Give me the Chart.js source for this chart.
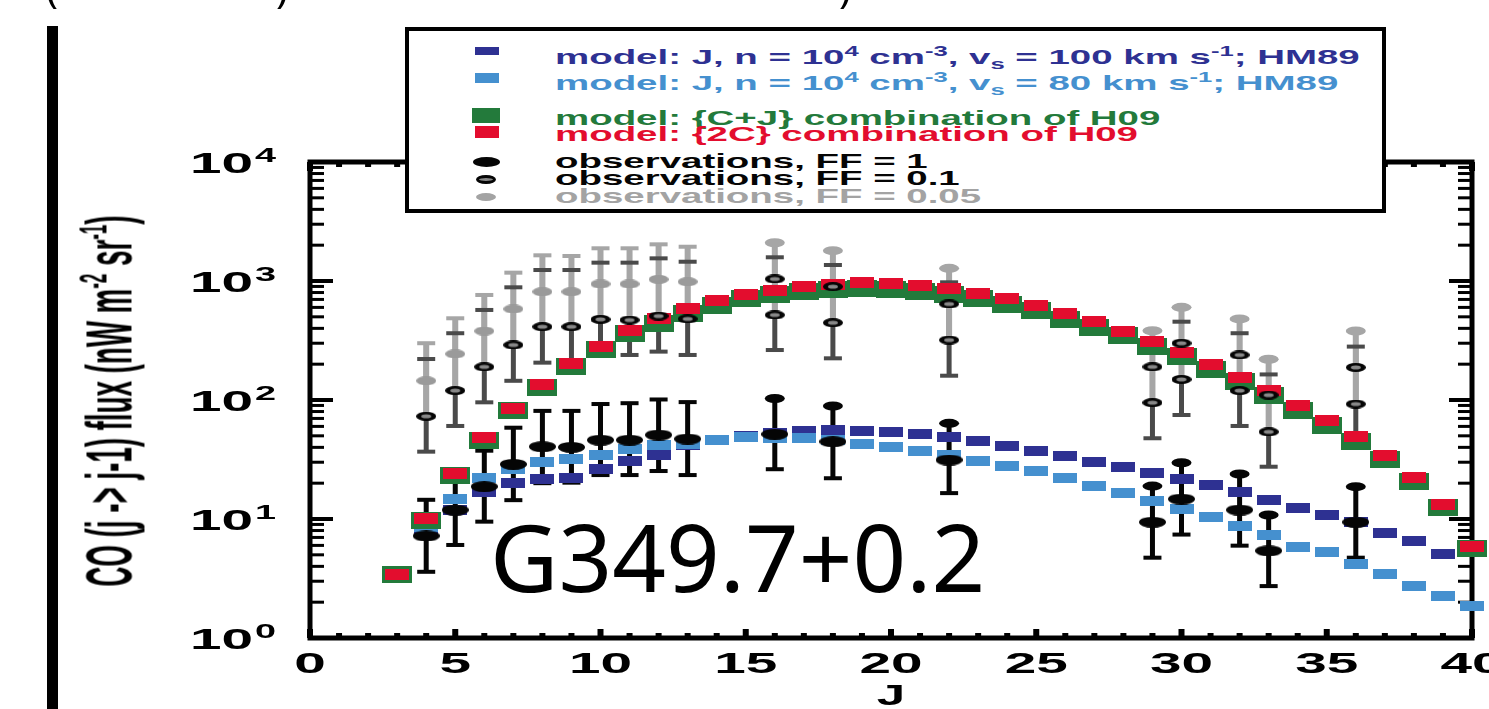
<!DOCTYPE html>
<html>
<head>
<meta charset="utf-8">
<script src="https://cdn.jsdelivr.net/npm/chart.js@4"></script>
<style>
  html, body { margin: 0; padding: 0; background: #fff; }
  body { width: 1489px; height: 709px; position: relative; overflow: hidden; }
  #chart { position: absolute; left: 0; top: 0; }
  .abs { position: absolute; white-space: nowrap; line-height: 0; }
  #legend { position: absolute; left: 405px; top: 27px; width: 981px; height: 186px; border: 4px solid #000; box-sizing: border-box; background: #fff; }
  .lg { position: absolute; left: 555px; white-space: nowrap; line-height: 0; font: bold 21px "Liberation Sans", Arial, sans-serif; transform: scaleX(1.83); transform-origin: 0 0; }
  .lg sup, .lg sub { font-size: 14px; line-height: 0; }
  .lg sup { vertical-align: 8px; }
  .lg sub { vertical-align: -5px; }
  .mk { position: absolute; }
  #ylab { position: absolute; white-space: nowrap; line-height: 1; font: bold 36px "Liberation Sans", Arial, sans-serif; transform: rotate(-90deg) scale(0.77, 1.8); }
  #ylab sup { font-size: 22px; vertical-align: 14px; line-height: 0; }
</style>
</head>
<body>
<canvas id="chart" width="1489" height="709"></canvas>

<!-- slide leftovers: thick bar and cut-off title -->
<div class="abs" style="left:47px;top:26px;width:11px;height:683px;background:#000"></div>
<div class="abs" style="left:46px;top:-40px;font:40px 'Noto Sans',sans-serif">(</div>
<div class="abs" style="left:276px;top:-40px;font:40px 'Noto Sans',sans-serif">)</div>
<div class="abs" style="left:839px;top:-40px;font:40px 'Noto Sans',sans-serif">)</div>

<div id="ylab">CO (j -&gt; j-1) flux (nW m<sup>-2</sup> sr<sup>-1</sup>)</div>

<div id="legend"></div>
<div class="mk" style="left:475px;top:47px;width:24px;height:8px;background:#2e3192"></div>
<div class="mk" style="left:475px;top:73px;width:24px;height:10px;background:#4590cf"></div>
<div class="mk" style="left:472px;top:108px;width:28px;height:15px;background:#237a3b"></div>
<div class="mk" style="left:475px;top:126px;width:24px;height:12px;background:#e30d2e"></div>
<div class="mk" style="left:473px;top:157px;width:27px;height:10px;background:#050505;border-radius:50%"></div>
<div class="mk" style="left:476px;top:175px;width:20px;height:9px;background:#888;border:3px solid #050505;box-sizing:border-box;border-radius:50%"></div>
<div class="mk" style="left:476px;top:193px;width:20px;height:8px;background:#a3a3a3;border-radius:50%"></div>

<div class="lg" style="top:45px;color:#2e3192">model: J, n = 10<sup>4</sup> cm<sup>-3</sup>, v<sub>s</sub> = 100 km s<sup>-1</sup>; HM89</div>
<div class="lg" style="top:71px;color:#4590cf">model: J, n = 10<sup>4</sup> cm<sup>-3</sup>, v<sub>s</sub> = 80 km s<sup>-1</sup>; HM89</div>
<div class="lg" style="top:106px;color:#237a3b">model: {C+J} combination of H09</div>
<div class="lg" style="top:122px;color:#e30d2e">model: {2C} combination of H09</div>
<div class="lg" style="top:149px;color:#050505">observations, FF = 1</div>
<div class="lg" style="top:166px;color:#050505">observations, FF = 0.1</div>
<div class="lg" style="top:184px;color:#a3a3a3">observations, FF = 0.05</div>

<div class="abs" style="left:490px;top:492px;font:94px 'Noto Sans',sans-serif;color:#000">G349.7+0.2</div>

<script>
// ---- data ----
const J_MODEL = [3, 4, 5, 6, 7, 8, 9, 10, 11, 12, 13, 14, 15, 16, 17, 18, 19, 20, 21, 22,
  23, 24, 25, 26, 27, 28, 29, 30, 31, 32, 33, 34, 35, 36, 37, 38, 39, 40];

// {2C} combination of H09
const MODEL_2C = [3.4, 10.1, 24.2, 48.6, 85, 136, 203, 281, 387, 480, 582, 683, 763, 840, 896, 938, 968, 955, 908, 857,
  789, 716, 625, 535, 455, 375, 309, 250, 200, 155, 120, 90, 67, 49, 34, 22.4, 13.3, 5.9];
// {C+J} combination of H09
const MODEL_CJ = [3.4, 9.8, 23, 46, 81, 128, 193, 268, 359, 442, 538, 625, 707, 767, 811, 842, 857, 842, 811, 767,
  707, 640, 560, 477, 408, 345, 284, 230, 182, 142, 110, 82, 61.5, 45, 31.4, 20.8, 12.4, 5.6];
// J shock, vs = 100 km/s (HM89)
const MODEL_J100 = [null, 7.9, 12, 16.7, 20.1, 21.7, 22.1, 26.1, 30.7, 34.8, 42, 46.5, 50, 52.8, 55, 56, 55, 53.5, 51.4, 48.5,
  45.5, 41.3, 37.3, 34, 30.3, 27.5, 24.5, 21.7, 19.3, 17, 14.4, 12.4, 10.8, 9.4, 7.7, 6.5, 5.1, null];
// J shock, vs = 80 km/s (HM89)
const MODEL_J80 = [null, 8.6, 14.7, 22.1, 26.3, 30.1, 31.9, 34.7, 38.7, 41.9, 42.5, 45.7, 48.9, 48.2, 48, 46, 42.4, 40.5, 37.3, 34.5,
  30.7, 28, 25.3, 22, 19, 16.4, 14.2, 12.1, 10.3, 8.8, 7.4, 5.8, 5.25, 4.2, 3.47, 2.75, 2.27, 1.87];

const J_OBS = [4, 5, 6, 7, 8, 9, 10, 11, 12, 13, 16, 18, 22, 29, 30, 32, 33, 36];
const OBS_FF1 = [7.2, 11.9, 18.7, 28.8, 40.5, 40, 46, 46, 50.8, 47, 51.5, 44.6, 31.3, 9.4, 14.7, 11.9, 5.4, 9.4];
const OBS_FF1_LO = [3.6, 6.05, 9.5, 14.4, 20, 20.2, 23.4, 23.4, 25.3, 23.4, 26.2, 22, 16.5, 4.73, 7.4, 5.97, 2.73, 4.73];
const OBS_FF1_HI = [14.5, 24, 37.5, 58.5, 81, 81, 92.5, 94, 101, 96, 103, 89, 63.7, 18.9, 29.7, 23.9, 10.8, 18.7];
const OBS_FF01 = [73, 120, 190, 290, 413, 413, 476, 470, 508, 480, 518, 446, 319, 95, 149, 120, 54, 92.5];
const OBS_FF01_LO = [36.8, 60.5, 95.6, 145, 206, 206, 236, 239, 255, 239, 263, 224, 160, 47.7, 74.8, 60.5, 27.5, 47];
const OBS_FF01_HI = [221, 364, 571, 885, 1237, 1237, 1426, 1426, 1550, 1452, 1582, 1363, 975, 286, 455, 364, 164, 281];
const OBS_FF005 = [145, 244, 380, 582, 813, 813, 944, 944, 1033, 986, 1040, 896, 641, 190, 300, 239, 110, 188];
const OBS_FF005_LO = [72.5, 121, 188, 290, 410, 410, 470, 470, 508, 480, 518, 446, 319, 95, 149, 120, 54, 92];
const OBS_FF005_HI = [300, 486, 763, 1175, 1644, 1622, 1883, 1883, 2033, 1941, 2098, 1798, 1278, 382, 601, 480, 220, 380];

const X_TICKS = [0, 5, 10, 15, 20, 25, 30, 35, 40];
const Y_TICKS = [1, 10, 100, 1000, 10000];
const X_TITLE = 'J';

// second instrument set (J >= 16) is plotted with round upper caps
const ROUND_CAP_FROM = 16;

// ---- marker images ----
function rectMark(w, h, color) {
  const c = document.createElement('canvas');
  c.width = w; c.height = h;
  const g = c.getContext('2d');
  g.fillStyle = color;
  g.fillRect(0, 0, w, h);
  return c;
}
function ovalMark(w, h, fill, ring) {
  const c = document.createElement('canvas');
  c.width = w; c.height = h;
  const g = c.getContext('2d');
  g.beginPath();
  g.ellipse(w / 2, h / 2, w / 2, h / 2, 0, 0, Math.PI * 2);
  g.fillStyle = ring ? '#050505' : fill;
  g.fill();
  if (ring) {
    g.beginPath();
    g.ellipse(w / 2, h / 2, w / 2 - 5, h / 2 - 2.5, 0, 0, Math.PI * 2);
    g.fillStyle = fill;
    g.fill();
  }
  return c;
}

const mkRed = rectMark(24, 11, '#e30d2e');
const mkGreen = rectMark(30, 17, '#237a3b');
const mkDark = rectMark(24, 10, '#2e3192');
const mkLight = rectMark(24, 10, '#4590cf');
const mkBlack = ovalMark(27, 11, '#050505', false);
const mkRing = ovalMark(20, 9, '#888', true);
const mkGrey = ovalMark(20, 9, '#9a9a9a', false);

const pts = (xs, ys) => xs.map((x, i) => ({ x, y: ys[i] })).filter(p => p.y != null);

// ---- error bars, frame, ticks ----
function errBars(ctx, x, y, lo, hi, color, barW, roundFrom, part) {
  ctx.fillStyle = color;
  J_OBS.forEach((j, i) => {
    const px = x.getPixelForValue(j);
    const top = y.getPixelForValue(hi[i]);
    const bot = y.getPixelForValue(lo[i]);
    if (part !== 'caps') ctx.fillRect(px - barW / 2, top, barW, bot - top);
    if (part !== 'bar') {
      ctx.fillRect(px - 9, bot - 2, 18, 4);
      if (roundFrom && j >= roundFrom) {
        ctx.beginPath();
        ctx.ellipse(px, top, 10, 4.5, 0, 0, Math.PI * 2);
        ctx.fill();
      } else {
        ctx.fillRect(px - 9, top - 2, 18, 4);
      }
    }
  });
}

function wideText(ctx, txt, px, py, font, sx, align) {
  ctx.save();
  ctx.font = font;
  ctx.textAlign = align;
  ctx.textBaseline = 'alphabetic';
  ctx.translate(px, py);
  ctx.scale(sx, 1);
  ctx.fillText(txt, 0, 0);
  ctx.restore();
}

const axesAndBars = {
  id: 'axesAndBars',
  beforeDatasetsDraw(chart) {
    const { ctx, chartArea: a, scales: { x, y } } = chart;
    ctx.save();
    errBars(ctx, x, y, OBS_FF01_LO, OBS_FF01_HI, '#4a4a4a', 5, null, 'bar');
    errBars(ctx, x, y, OBS_FF005_LO, OBS_FF005_HI, '#a6a6a6', 6, ROUND_CAP_FROM, 'all');
    errBars(ctx, x, y, OBS_FF01_LO, OBS_FF01_HI, '#4a4a4a', 5, null, 'caps');
    errBars(ctx, x, y, OBS_FF1_LO, OBS_FF1_HI, '#050505', 5, ROUND_CAP_FROM, 'all');

    ctx.fillStyle = '#000';
    for (let j = 0; j <= 40; j++) {
      const px = x.getPixelForValue(j);
      const len = j % 5 === 0 ? 9 : 5;
      ctx.fillRect(px - 3, a.bottom - len, 6, len);
      ctx.fillRect(px - 3, a.top, 6, len);
    }
    for (let d = 0; d < 4; d++) {
      for (let m = 1; m <= 9; m++) {
        const py = y.getPixelForValue(m * Math.pow(10, d));
        const len = m === 1 ? 23 : 14;
        const th = m === 1 ? 4 : 3;
        ctx.fillRect(a.left, py - th / 2, len, th);
        ctx.fillRect(a.right - len, py - th / 2, len, th);
      }
    }
    ctx.strokeStyle = '#000';
    ctx.lineWidth = 5;
    ctx.strokeRect(a.left, a.top, a.right - a.left, a.bottom - a.top);

    ctx.fillStyle = '#000';
    Y_TICKS.forEach(v => {
      const py = y.getPixelForValue(v);
      wideText(ctx, '10', 253, py + 10.7, 'bold 30px "Liberation Sans", Arial', 1.89, 'right');
      wideText(ctx, String(Math.round(Math.log10(v))), 255, py - 0.5, 'bold 20px "Liberation Sans", Arial', 1.89, 'left');
    });
    X_TICKS.forEach(v => {
      wideText(ctx, String(v), x.getPixelForValue(v), 673, 'bold 30px "Liberation Sans", Arial', 1.89, 'center');
    });
    wideText(ctx, X_TITLE, x.getPixelForValue(20), 705, 'bold 30px "Liberation Sans", Arial', 1.7, 'center');
    ctx.restore();
  }
};

const base = { clip: false, pointRadius: 8, pointHoverRadius: 8 };

new Chart(document.getElementById('chart'), {
  type: 'scatter',
  data: {
    datasets: [
      { ...base, label: 'observations, FF = 1', data: pts(J_OBS, OBS_FF1), pointStyle: mkBlack, order: 1 },
      { ...base, label: 'observations, FF = 0.1', data: pts(J_OBS, OBS_FF01), pointStyle: mkRing, order: 2 },
      { ...base, label: 'observations, FF = 0.05', data: pts(J_OBS, OBS_FF005),
        pointStyle: c => (J_OBS[c.dataIndex] >= ROUND_CAP_FROM ? mkRing : mkGrey), order: 3 },
      { ...base, label: 'model: {2C} combination of H09', data: pts(J_MODEL, MODEL_2C), pointStyle: mkRed, order: 4 },
      { ...base, label: 'model: {C+J} combination of H09', data: pts(J_MODEL, MODEL_CJ), pointStyle: mkGreen, order: 5 },
      { ...base, label: 'model: J, vs = 80 km/s; HM89', data: pts(J_MODEL, MODEL_J80), pointStyle: mkLight, order: 6 },
      { ...base, label: 'model: J, vs = 100 km/s; HM89', data: pts(J_MODEL, MODEL_J100), pointStyle: mkDark, order: 7 }
    ]
  },
  options: {
    responsive: false,
    animation: false,
    devicePixelRatio: 1,
    events: [],
    layout: { padding: { left: 310, right: 17, top: 162, bottom: 71 } },
    plugins: { legend: { display: false }, tooltip: { enabled: false } },
    scales: {
      x: { type: 'linear', min: 0, max: 40, display: false },
      y: { type: 'logarithmic', min: 1, max: 10000, display: false }
    }
  },
  plugins: [axesAndBars]
});

// centre the rotated axis title
const yl = document.getElementById('ylab');
yl.style.left = (110 - yl.offsetWidth / 2) + 'px';
yl.style.top = (401 - yl.offsetHeight / 2) + 'px';
</script>
</body>
</html>
